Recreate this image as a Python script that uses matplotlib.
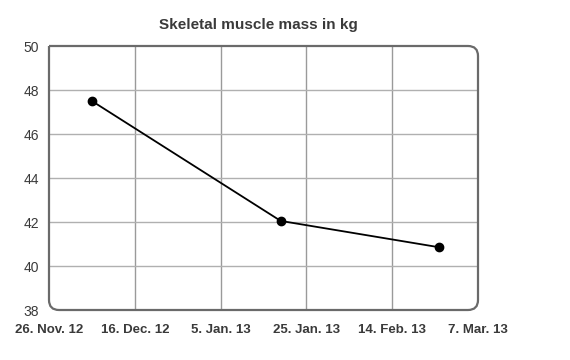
import matplotlib
matplotlib.use("Agg")
import matplotlib.pyplot as plt
from matplotlib.path import Path
from matplotlib.patches import PathPatch

plt.rcParams['font.family'] = ['Liberation Sans', 'DejaVu Sans']

# days since 26 Nov 2012
days = [10, 54, 91]
mass = [47.5, 42.05, 40.85]

tick_days = [0, 20, 40, 60, 80, 100]
tick_labels = ['26. Nov. 12', '16. Dec. 12', '5. Jan. 13', '25. Jan. 13', '14. Feb. 13', '7. Mar. 13']
y_ticks = [38, 40, 42, 44, 46, 48, 50]

fig = plt.figure(figsize=(5.7, 3.6), dpi=100)
ax = fig.add_axes([49 / 570, 1 - 310 / 360, 429 / 570, 264 / 360])

ax.set_xlim(0, 100)
ax.set_ylim(38, 50)

# interior grid lines only, the frame is drawn separately
for d in tick_days[1:-1]:
    ax.axvline(d, color='#9a9a9a', lw=1.0, zorder=1)
for v in y_ticks[1:-1]:
    ax.axhline(v, color='#b0b0b0', lw=1.0, zorder=1)

ax.plot(days, mass, color='black', lw=1.3, marker='o', ms=6, zorder=3)

# frame with rounded corners (all but top-left)
rx = 10 / 429
ry = 10 / 264
verts = [
    (0, 1), (1 - rx, 1), (1, 1), (1, 1 - ry),
    (1, ry), (1, 0), (1 - rx, 0),
    (rx, 0), (0, 0), (0, ry),
    (0, 1),
]
codes = [
    Path.MOVETO, Path.LINETO, Path.CURVE3, Path.CURVE3,
    Path.LINETO, Path.CURVE3, Path.CURVE3,
    Path.LINETO, Path.CURVE3, Path.CURVE3,
    Path.LINETO,
]
frame = PathPatch(Path(verts, codes), transform=ax.transAxes, fill=False,
                  edgecolor='#6a6a6a', lw=1.6, clip_on=False, zorder=4)
ax.add_patch(frame)

for s in ax.spines.values():
    s.set_visible(False)

ax.set_xticks(tick_days)
ax.set_xticklabels(tick_labels, fontsize=9.5, fontweight='bold', color='#3a3a3a')
ax.set_yticks(y_ticks)
ax.set_yticklabels([str(v) for v in y_ticks], fontsize=10, color='#3a3a3a')
ax.tick_params(axis='x', length=0, pad=10)
ax.tick_params(axis='y', length=0, pad=7)

fig.text(258 / 570, 1 - 25 / 360, 'Skeletal muscle mass in kg', ha='center', va='center',
         fontsize=11, fontweight='bold', color='#3a3a3a')

fig.savefig('out.png', dpi=100)
